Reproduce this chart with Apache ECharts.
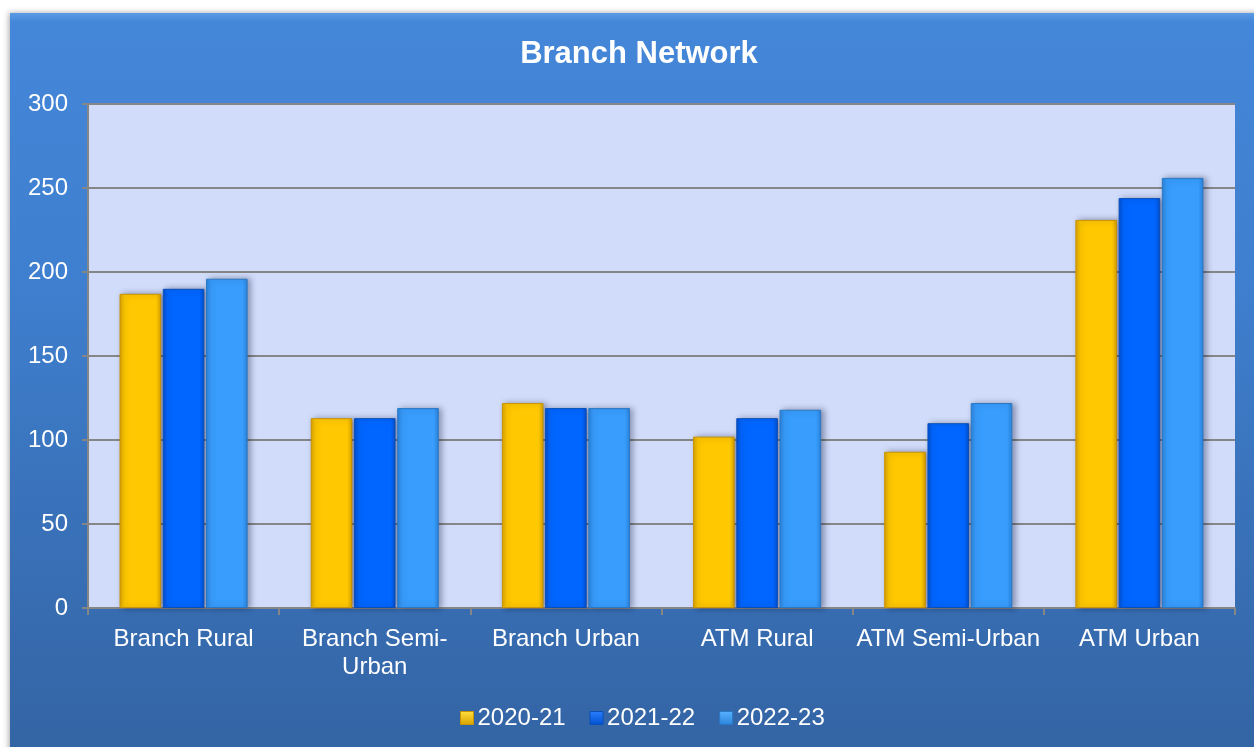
<!DOCTYPE html>
<html>
<head>
<meta charset="utf-8">
<title>Branch Network</title>
<script src="https://cdn.jsdelivr.net/npm/echarts@6/dist/echarts.min.js"></script>
<style>
  html, body { margin: 0; padding: 0; background: #ffffff; }
  #chart { width: 1254px; height: 747px; }
</style>
</head>
<body>
<div id="chart"></div>
<script>
// Outlets per year, by channel and area type
const categories = ['Branch Rural', 'Branch Semi-Urban', 'Branch Urban', 'ATM Rural', 'ATM Semi-Urban', 'ATM Urban'];
const seriesNames = ['2020-21', '2021-22', '2022-23'];
const values2020 = [187, 113, 122, 102, 93, 231];
const values2021 = [190, 113, 119, 113, 110, 244];
const values2022 = [196, 119, 119, 118, 122, 256];
const yTicks = [0, 50, 100, 150, 200, 250, 300];

// Base, edge and highlight tones for each year's bars
const palettes = [
  { base: '#ffc800', edge: '#d9a200', light: '#ffe040', border: '#c89400' },
  { base: '#0066ff', edge: '#0050d0', light: '#2a80ff', border: '#0a4fb8' },
  { base: '#389dfd', edge: '#2a84dc', light: '#5ab2ff', border: '#2a78c4' }
];

const FONT = 'Liberation Sans, Arial, sans-serif';

function barStyle(p) {
  return {
    color: new echarts.graphic.LinearGradient(0, 0, 1, 0, [
      { offset: 0, color: p.edge },
      { offset: 0.12, color: p.base },
      { offset: 0.5, color: p.base },
      { offset: 0.88, color: p.base },
      { offset: 1, color: p.edge }
    ]),
    borderColor: p.border,
    borderWidth: 1,
    shadowColor: 'rgba(0, 0, 40, 0.35)',
    shadowBlur: 6,
    shadowOffsetX: 3,
    shadowOffsetY: 0
  };
}

function legendIcon(p) {
  return {
    color: new echarts.graphic.LinearGradient(0, 0, 0, 1, [
      { offset: 0, color: p.light },
      { offset: 1, color: p.edge }
    ]),
    borderColor: p.border,
    borderWidth: 1
  };
}

const chart = echarts.init(document.getElementById('chart'), null, { renderer: 'canvas' });

const allValues = [values2020, values2021, values2022];

chart.setOption({
  backgroundColor: '#ffffff',
  animation: false,
  graphic: [{
    type: 'rect',
    z: -10,
    shape: { x: 10, y: 13, width: 1254, height: 760 },
    style: {
      fill: new echarts.graphic.LinearGradient(0, 0, 0, 1, [
        { offset: 0, color: '#5b9ae6' },
        { offset: 0.012, color: '#4486d8' },
        { offset: 0.35, color: '#3f7fcf' },
        { offset: 1, color: '#3363a2' }
      ]),
      shadowColor: 'rgba(0,0,0,0.35)',
      shadowBlur: 6,
      shadowOffsetX: -1
    }
  }],
  title: {
    text: 'Branch Network',
    left: 634,
    top: 34,
    textAlign: 'center',
    textStyle: {
      color: '#ffffff',
      fontFamily: FONT,
      fontSize: 31,
      fontWeight: 'bold'
    }
  },
  legend: {
    data: seriesNames.map((n, i) => ({ name: n, itemStyle: legendIcon(palettes[i]) })),
    left: 455,
    top: 701,
    itemWidth: 13,
    itemHeight: 13,
    itemGap: 24,
    icon: 'rect',
    textStyle: {
      color: '#ffffff',
      fontFamily: FONT,
      fontSize: 24,
      padding: [0, 0, 0, -1]
    }
  },
  grid: {
    left: 88,
    right: 19,
    top: 104,
    bottom: 139,
    show: true,
    backgroundColor: '#d0dcfa',
    borderWidth: 0
  },
  xAxis: {
    type: 'category',
    data: categories,
    axisLine: { show: true, lineStyle: { color: '#868686', width: 2 } },
    axisTick: { show: true, alignWithLabel: false, length: 7, lineStyle: { color: '#868686', width: 2 } },
    axisLabel: {
      color: '#ffffff',
      fontFamily: FONT,
      fontSize: 24,
      lineHeight: 28,
      margin: 17,
      interval: 0,
      formatter: (v) => v === 'Branch Semi-Urban' ? 'Branch Semi-\nUrban' : v
    }
  },
  yAxis: {
    type: 'value',
    min: yTicks[0],
    max: yTicks[yTicks.length - 1],
    interval: yTicks[1] - yTicks[0],
    axisLine: { show: true, lineStyle: { color: '#868686', width: 2 } },
    axisTick: { show: true, length: 6, lineStyle: { color: '#868686', width: 2 } },
    splitLine: { show: true, lineStyle: { color: '#868686', width: 2 } },
    axisLabel: {
      color: '#ffffff',
      fontFamily: FONT,
      fontSize: 24,
      margin: 20
    }
  },
  series: seriesNames.map((name, i) => ({
    name: name,
    type: 'bar',
    data: allValues[i],
    barGap: '4%',
    barCategoryGap: '33%',
    itemStyle: barStyle(palettes[i])
  }))
});
</script>
</body>
</html>
